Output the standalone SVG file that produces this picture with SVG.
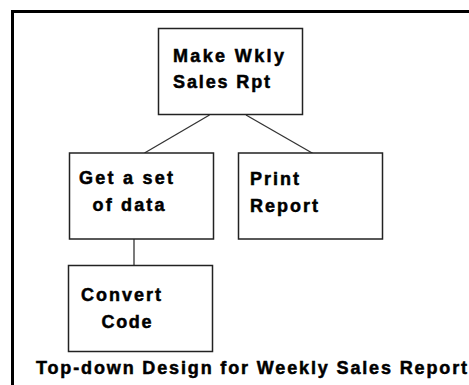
<svg xmlns="http://www.w3.org/2000/svg" width="469" height="385" viewBox="0 0 469 385">
<style>
.box{fill:#fff;stroke:#222;stroke-width:1.5}
.lbl{font-family:"Liberation Sans",Arial,sans-serif;font-weight:bold;font-size:18px;fill:#000;stroke:#000;stroke-width:0.5}
.conn line{stroke:#333;stroke-width:1.3}
</style>
<rect width="469" height="385" fill="#fff"/>
<path d="M12.5,385 V11.5 H469" fill="none" stroke="#000" stroke-width="3"/>
<g class="conn">
<line x1="209.5" y1="115" x2="144.5" y2="153"/>
<line x1="246" y1="115" x2="313" y2="153.5"/>
<line x1="134" y1="239" x2="134" y2="265"/>
</g>
<g id="make">
<rect class="box" x="158.5" y="28.5" width="144" height="86"/>
<text class="lbl" x="173" y="62" textLength="111" lengthAdjust="spacing">Make Wkly</text>
<text class="lbl" x="173" y="88" textLength="97" lengthAdjust="spacing">Sales Rpt</text>
</g>
<g id="get">
<rect class="box" x="69.5" y="153" width="144" height="86"/>
<text class="lbl" x="79" y="184" textLength="94" lengthAdjust="spacing">Get a set</text>
<text class="lbl" x="92.5" y="211" textLength="72" lengthAdjust="spacing">of data</text>
</g>
<g id="print">
<rect class="box" x="238.5" y="153" width="144" height="86"/>
<text class="lbl" x="250" y="185" textLength="49" lengthAdjust="spacing">Print</text>
<text class="lbl" x="250" y="212" textLength="68" lengthAdjust="spacing">Report</text>
</g>
<g id="convert">
<rect class="box" x="68.5" y="265.5" width="144" height="86"/>
<text class="lbl" x="81" y="301" textLength="80" lengthAdjust="spacing">Convert</text>
<text class="lbl" x="101.5" y="328" textLength="50" lengthAdjust="spacing">Code</text>
</g>
<text class="lbl" x="36" y="374" font-size="17" textLength="431" lengthAdjust="spacing">Top-down Design for Weekly Sales Report</text>
</svg>
